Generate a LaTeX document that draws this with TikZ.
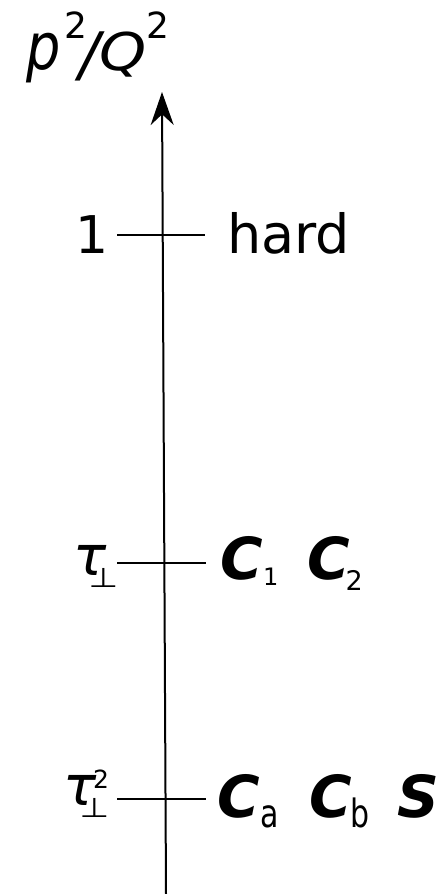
\documentclass[tikz,border=0pt]{standalone}
\usepackage{fontspec}
\setmainfont{DejaVu Sans}
\usetikzlibrary{arrows.meta}
\newcommand{\fs}[1]{\fontsize{#1}{#1}\selectfont}
\begin{document}
\begin{tikzpicture}[x=1pt,y=-1pt,
  lab/.style={inner sep=0pt,outer sep=0pt,anchor=base west},
  tick/.style={line width=2pt},
  axis/.style={line width=2pt,-{Stealth[length=33pt,width=23pt]}}]
\useasboundingbox (0,0) rectangle (441,894);
% axis
\coordinate (axisbot) at (166,894);
\coordinate (axistop) at (162,92);
\draw[axis] (axisbot) -- (axistop);
% axis label p^2/Q^2
\node[lab] (pp) at (26,69) {\scalebox{1}[1.2]{\fs{54}\itshape p}};
\node[lab] (ps) at (64,38) {\fs{36}2};
\node[lab] (sl) at (79,75) {\fs{60}\itshape /};
\node[lab] (qq) at (99,70) {\scalebox{1.15}[1]{\fs{52}\itshape Q}};
\node[lab] (qs) at (146.5,38) {\fs{36}2};
% tick 1 : hard
\coordinate (t1l) at (117,235);
\coordinate (t1r) at (205,235);
\draw[tick] (t1l) -- (t1r);
\node[lab] (one) at (75,253) {\fs{52}1};
\node[lab] (hard) at (227,253) {\fs{54}hard};
% tick tau_perp : C1 C2
\coordinate (t2l) at (117,563);
\coordinate (t2r) at (206,563);
\draw[tick] (t2l) -- (t2r);
\node[lab] (tau1) at (73,575) {\fs{55}\itshape τ};
\node[lab] (perp1) at (88.5,587) {\scalebox{1}[0.8]{\fs{34}⊥}};
\node[lab] (c1) at (220,579) {\fs{58}\bfseries\itshape C};
\node[lab] (c1s) at (263,585) {\fs{24}1};
\node[lab] (c2) at (307,579) {\fs{58}\bfseries\itshape C};
\node[lab] (c2s) at (345.5,590) {\fs{27}2};
% tick tau_perp^2 : Ca Cb S
\coordinate (t3l) at (117,799);
\coordinate (t3r) at (206,799);
\draw[tick] (t3l) -- (t3r);
\node[lab] (tau2) at (63,805) {\fs{55}\itshape τ};
\node[lab] (tau2s) at (93,788) {\fs{25}2};
\node[lab] (perp2) at (79.5,817) {\scalebox{1}[0.8]{\fs{34}⊥}};
\node[lab] (ca) at (217,817) {\fs{58}\bfseries\itshape C};
\node[lab] (cas) at (260,827) {\scalebox{1}[1.3]{\fs{30}a}};
\node[lab] (cb) at (309,817) {\fs{58}\bfseries\itshape C};
\node[lab] (cbs) at (350,827) {\scalebox{1}[1.3]{\fs{30}b}};
\node[lab] (ss) at (397,817) {\fs{58}\bfseries\itshape S};
\end{tikzpicture}
\end{document}
